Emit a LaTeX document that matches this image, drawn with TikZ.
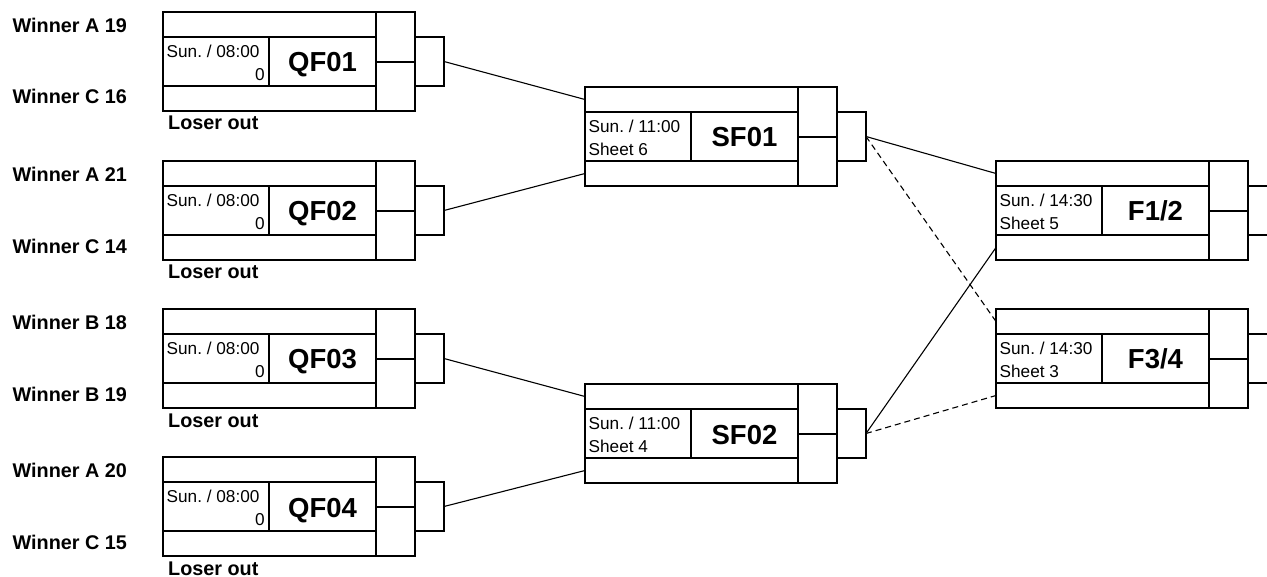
\documentclass[tikz,border=0pt]{standalone}
\usepackage{fontspec}
\setmainfont{Liberation Sans}
\frenchspacing
\tikzset{
  boxline/.style={line width=1.8pt, line cap=rect},
  conn/.style={line width=1.1pt},
  dconn/.style={line width=1.1pt, dash pattern=on 6pt off 4pt},
  datetxt/.style={inner sep=0pt, font=\fontsize{17.2}{18}\selectfont},
  gametxt/.style={inner sep=0pt, anchor=base, font=\fontsize{27.5}{30}\bfseries\selectfont},
  sidetxt/.style={inner sep=0pt, anchor=base west, font=\fontsize{19.8}{21}\bfseries\selectfont},
}
\newcommand\matchbox[5]{% name, x, y(top), date line, game label
  \draw[boxline] (#2,#3) rectangle ++(213,99);
  \draw[boxline] (#2,#3+25) -- ++(213,0);
  \draw[boxline] (#2,#3+74) -- ++(213,0);
  \draw[boxline] (#2+106,#3+25) -- ++(0,49);
  \draw[boxline] (#2+213,#3) rectangle ++(39,99);
  \draw[boxline] (#2+213,#3+50) -- ++(39,0);
  \draw[boxline] (#2+252,#3+25) rectangle ++(29,49);
  \coordinate (#1-in1) at (#2,#3+12.5);
  \coordinate (#1-in2) at (#2,#3+86.5);
  \coordinate (#1-out) at (#2+281,#3+49.5);
  \node[datetxt, anchor=base west] (#1-date) at (#2+3.5,#3+45.3) {#4};
  \node[gametxt] (#1-name) at (#2+159.5,#3+60) {#5};
}
\begin{document}
\begin{tikzpicture}[x=1pt,y=-1pt]
\clip (0,0) rectangle (1267,577);
\fill[white] (0,0) rectangle (1267,577);
% quarter finals
\matchbox{QF01}{163}{12}{Sun. / 08:00}{QF01}
\matchbox{QF02}{163}{161}{Sun. / 08:00}{QF02}
\matchbox{QF03}{163}{309}{Sun. / 08:00}{QF03}
\matchbox{QF04}{163}{457}{Sun. / 08:00}{QF04}
\foreach \n/\y in {QF01/12,QF02/161,QF03/309,QF04/457}{
  \node[datetxt, anchor=base east] (\n-sheet) at (265,\y+68.3) {0};
  \node[sidetxt] (\n-loser) at (168,\y+118) {Loser out};
}
\node[sidetxt] (wa19) at (12.5,32.3) {Winner A 19};
\node[sidetxt] (wc16) at (12.5,104) {Winner C 16};
\node[sidetxt] (wa21) at (12.5,181.6) {Winner A 21};
\node[sidetxt] (wc14) at (12.5,253.3) {Winner C 14};
\node[sidetxt] (wb18) at (12.5,329.6) {Winner B 18};
\node[sidetxt] (wb19) at (12.5,401.3) {Winner B 19};
\node[sidetxt] (wa20) at (12.5,477.9) {Winner A 20};
\node[sidetxt] (wc15) at (12.5,549.6) {Winner C 15};
% semi finals
\matchbox{SF01}{585}{87}{Sun. / 11:00}{SF01}
\matchbox{SF02}{585}{384}{Sun. / 11:00}{SF02}
\node[datetxt, anchor=base west] (SF01-sheet) at (588.5,87+68.3) {Sheet 6};
\node[datetxt, anchor=base west] (SF02-sheet) at (588.5,384+68.3) {Sheet 4};
% finals
\matchbox{F12}{996}{161}{Sun. / 14:30}{F1/2}
\matchbox{F34}{996}{309}{Sun. / 14:30}{F3/4}
\node[datetxt, anchor=base west] (F12-sheet) at (999.5,161+68.3) {Sheet 5};
\node[datetxt, anchor=base west] (F34-sheet) at (999.5,309+68.3) {Sheet 3};
% connectors
\draw[conn] (QF01-out) -- (SF01-in1);
\draw[conn] (QF02-out) -- (SF01-in2);
\draw[conn] (QF03-out) -- (SF02-in1);
\draw[conn] (QF04-out) -- (SF02-in2);
\draw[conn] (SF01-out) -- (F12-in1);
\draw[conn] (SF02-out) -- (F12-in2);
\draw[dconn] (SF01-out) -- (F34-in1);
\draw[dconn] (SF02-out) -- (F34-in2);
\end{tikzpicture}
\end{document}
